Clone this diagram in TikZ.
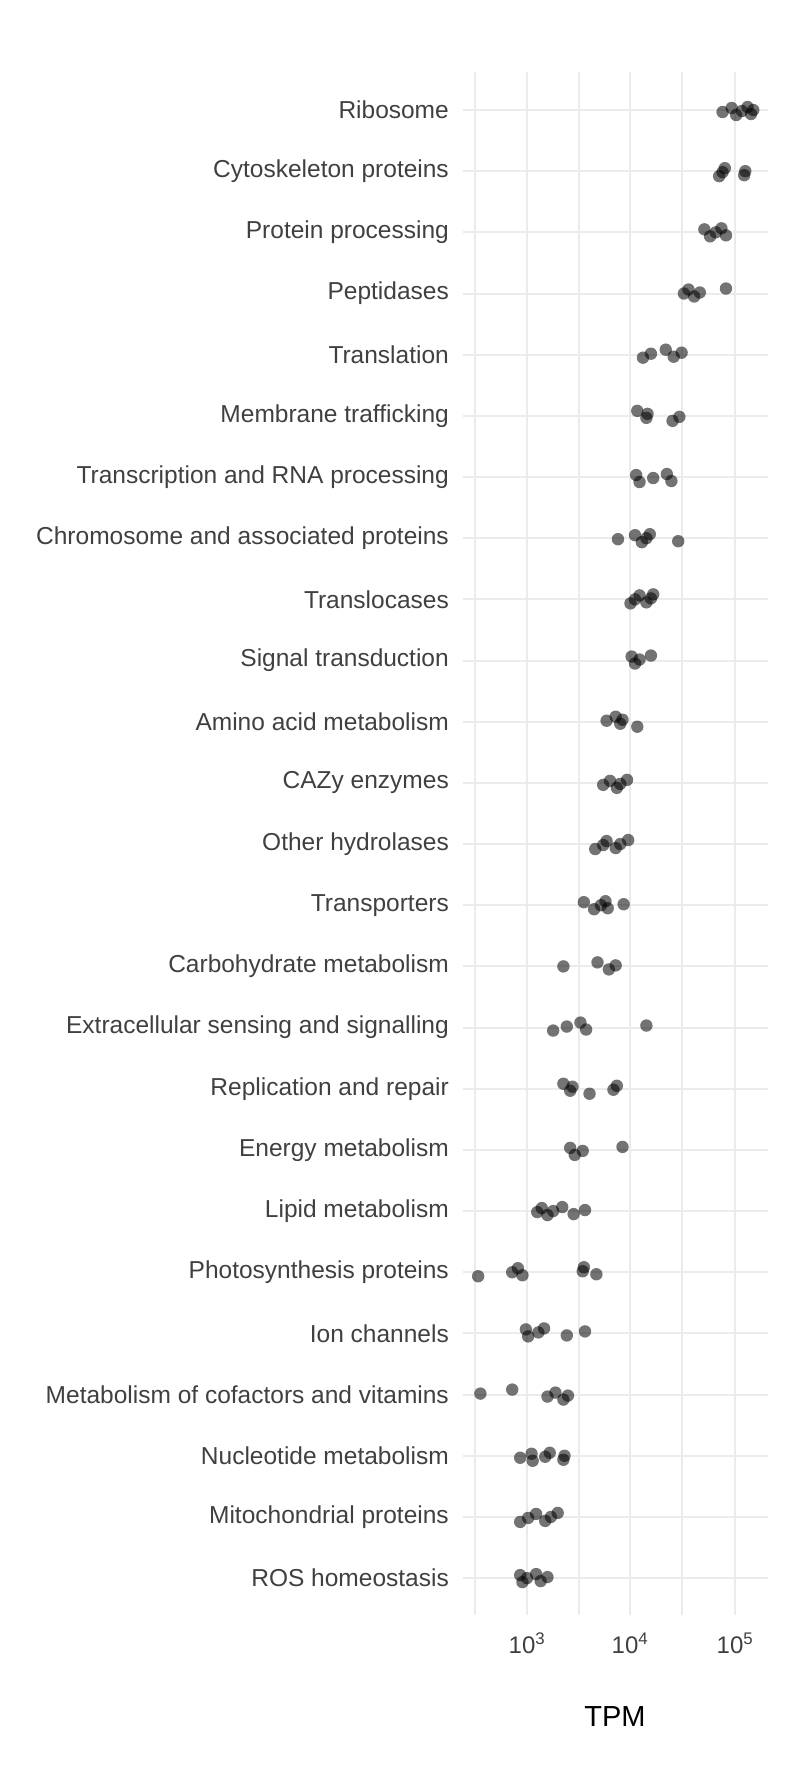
\documentclass[tikz,border=0pt]{standalone}
\usepackage{fontspec}
\setmainfont{Liberation Sans}
\tikzset{
	every picture/.style={x=1pt, y=-1pt},
	gridline/.style={draw=black!8, line width=2pt},
	rowlabel/.style={anchor=east, inner sep=0pt, text=black!75, font=\fontsize{24.5}{26}\selectfont},
	ticklabel/.style={inner sep=0pt, text=black!75, font=\fontsize{24}{26}\selectfont},
	dot/.style={fill=black, fill opacity=.55, draw=none},
}
\begin{document}
\begin{tikzpicture}
	\useasboundingbox[fill=white] (0,0) rectangle (800,1792);
	% grid
	\foreach \gx in {475, 527, 579, 630, 682, 735}
		\draw[gridline] (\gx,72) -- (\gx,1615);
	\foreach \lab [count=\n from 0] in {Ribosome, Cytoskeleton proteins, Protein processing, Peptidases, Translation, Membrane trafficking, Transcription and RNA processing, Chromosome and associated proteins, Translocases, Signal transduction, Amino acid metabolism, CAZy enzymes, Other hydrolases, Transporters, Carbohydrate metabolism, Extracellular sensing and signalling, Replication and repair, Energy metabolism, Lipid metabolism, Photosynthesis proteins, Ion channels, Metabolism of cofactors and vitamins, Nucleotide metabolism, Mitochondrial proteins, ROS homeostasis} {
		\draw[gridline] (463,110+\n*61.17) -- (768,110+\n*61.17);
		\node[rowlabel] (r\n) at (449,110+\n*61.17) {\lab};
	}
	% points (x read in screen units, mapped to the log axis)
	\foreach \pts [count=\n from 0] in {
		{633,641,645,650,655,658,660},
		{630,633,635,652,653},
		{617,622,627,632,636},
		{599,603,608,613,636},
		{563,570,583,590,597},
		{558,566,567,589,595},
		{557,560,572,584,588},
		{541,556,562,566,569,594},
		{552,556,560,566,570,572},
		{553,556,560,570},
		{531,539,543,545,558},
		{528,534,540,543,549},
		{521,528,531,539,543,550},
		{511,520,526,530,532,546},
		{493,523,533,539},
		{484,496,508,513,566},
		{493,499,501,516,537,540},
		{499,503,510,545},
		{470,474,479,484,492,502,512},
		{418,448,453,457,510,511,522},
		{460,462,471,476,496,512},
		{420,448,479,486,493,497},
		{455,465,466,477,481,493,494},
		{455,462,469,477,482,488},
		{455,457,461,469,473,479}} {
		\foreach \d [count=\k] in \pts
			\fill[dot] ({527+(\d-461)*1.137},{110+\n*61.17+mod(\k*7+\n*3,11)-5}) circle (6.2);
	}
	% axis
	\node[ticklabel] (t3) at (527,1643) {10\textsuperscript{3}};
	\node[ticklabel] (t4) at (630,1643) {10\textsuperscript{4}};
	\node[ticklabel] (t5) at (735,1643) {10\textsuperscript{5}};
	\node[font=\fontsize{29}{31}\selectfont] (tpm) at (615,1717) {TPM};
\end{tikzpicture}
\end{document}
